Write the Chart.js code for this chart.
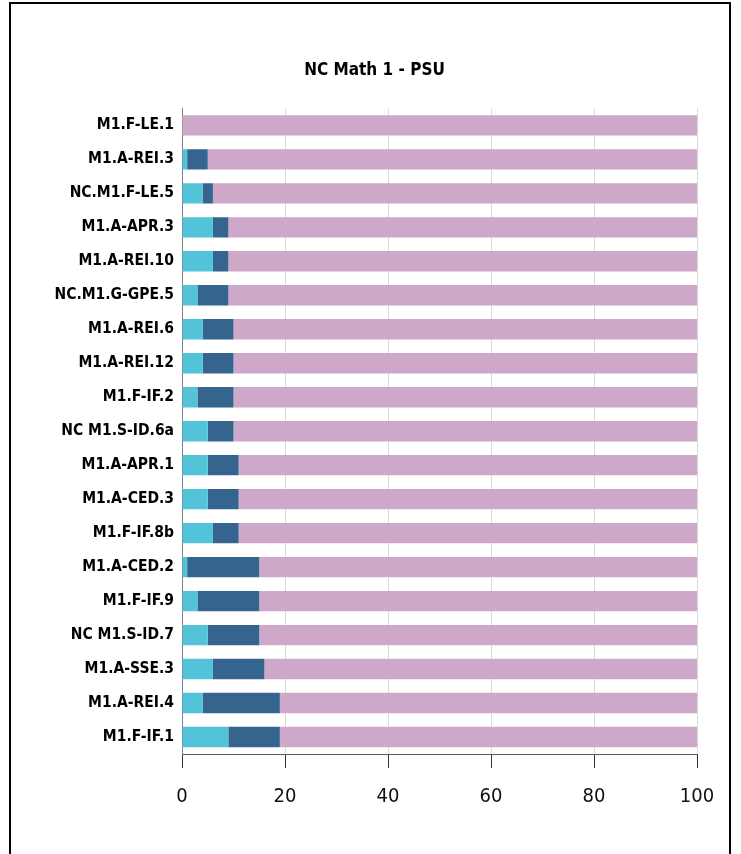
<!DOCTYPE html>
<html>
<head>
<meta charset="utf-8">
<script src="https://cdn.jsdelivr.net/npm/chart.js@4.4.0/dist/chart.umd.min.js"></script>
<style>
  body { margin: 0; background: #fff; }
  #frame {
    position: absolute; left: 9px; top: 2px; width: 718px; height: 860px;
    border: 2px solid #000; border-bottom: none; background: #fff;
  }
  #wrap { position: absolute; left: 0; top: 1px; width: 716px; height: 851px; }
</style>
</head>
<body>
<div id="frame"><div id="wrap"><canvas id="myChart"></canvas></div></div>
<script>
var standards = ['M1.F-LE.1', 'M1.A-REI.3', 'NC.M1.F-LE.5', 'M1.A-APR.3', 'M1.A-REI.10',
    'NC.M1.G-GPE.5', 'M1.A-REI.6', 'M1.A-REI.12', 'M1.F-IF.2', 'NC M1.S-ID.6a',
    'M1.A-APR.1', 'M1.A-CED.3', 'M1.F-IF.8b', 'M1.A-CED.2', 'M1.F-IF.9',
    'NC M1.S-ID.7', 'M1.A-SSE.3', 'M1.A-REI.4', 'M1.F-IF.1'];
var lightPart = [0, 1, 4, 6, 6, 3, 4, 4, 3, 5, 5, 5, 6, 1, 3, 5, 6, 4, 9];
var darkPart = [0, 4, 2, 3, 3, 6, 6, 6, 7, 5, 6, 6, 5, 14, 12, 10, 10, 15, 10];
var restPart = [100, 95, 94, 91, 91, 91, 90, 90, 90, 90, 89, 89, 89, 85, 85, 85, 84, 81, 81];

var narrow = "'Liberation Sans Narrow', 'DejaVu Sans Condensed', sans-serif";
Chart.defaults.font.family = narrow;
Chart.defaults.color = '#000';

var ctx = document.getElementById('myChart').getContext('2d');
var myChart = new Chart(ctx, {
    type: 'bar',
    data: {
        labels: standards,
        datasets: [
            { label: 'Part 1', data: lightPart, backgroundColor: '#52c3d8' },
            { label: 'Part 2', data: darkPart, backgroundColor: '#35658e' },
            { label: 'Part 3', data: restPart, backgroundColor: '#cea8c8' }
        ]
    },
    options: {
        indexAxis: 'y',
        responsive: true,
        maintainAspectRatio: false,
        animation: false,
        barPercentage: 0.6,
        categoryPercentage: 1,
        layout: { padding: { left: 41, right: 30, top: 0, bottom: 0 } },
        plugins: {
            legend: { display: false },
            tooltip: { enabled: false },
            title: {
                display: true,
                text: 'NC Math 1 - PSU',
                color: '#000',
                font: { size: 17, weight: 'bold' },
                padding: { top: 55, bottom: 28 }
            }
        },
        scales: {
            x: {
                stacked: true,
                min: 0,
                max: 100,
                // tall line height pushes the labels down without widening the side padding
                ticks: { stepSize: 20, padding: 2, font: { size: 20, lineHeight: 2.65 }, color: '#111' },
                grid: { color: '#d9d9d9', tickColor: '#333', tickLength: 14 },
                border: { color: '#595959', width: 1 },
                afterFit: function (scale) { scale.height = 102; }
            },
            y: {
                stacked: true,
                ticks: { padding: 0, font: { size: 15.5, weight: 'bold' }, color: '#000' },
                grid: { display: false },
                border: { color: '#808080', width: 1 },
                afterFit: function (scale) { scale.width = 130; }
            }
        }
    }
});
</script>
</body>
</html>
